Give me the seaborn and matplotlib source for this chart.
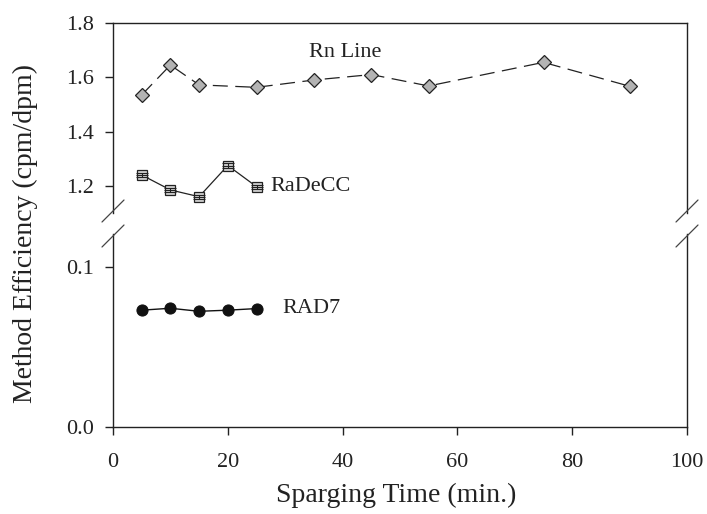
import matplotlib
matplotlib.use("Agg")
import matplotlib.pyplot as plt
import seaborn as sns
import numpy as np

sns.set_theme(style="ticks")
plt.rcParams['font.family'] = ['Liberation Serif', 'DejaVu Serif']

# Data
rn_x = [5, 10, 15, 25, 35, 45, 55, 75, 90]
rn_y = [1.535, 1.645, 1.572, 1.563, 1.590, 1.610, 1.568, 1.655, 1.567]
radecc_x = [5, 10, 15, 20, 25]
radecc_y = [1.240, 1.185, 1.160, 1.275, 1.197]
radecc_err = [0.008, 0.008, 0.008, 0.008, 0.008]
rad7_x = [5, 10, 15, 20, 25]
rad7_y = [0.0730, 0.0742, 0.0723, 0.0730, 0.0740]

top_ticks = [1.2, 1.4, 1.6, 1.8]
bot_ticks = [0.0, 0.1]
x_ticks = [0, 20, 40, 60, 80, 100]

fig = plt.figure(figsize=(7.07, 5.14), dpi=100)
L, R = 113 / 707, 687 / 707
ax_top = fig.add_axes([L, 1 - 213 / 514, R - L, (213 - 23) / 514])
ax_bot = fig.add_axes([L, 1 - 427 / 514, R - L, (427 - 234) / 514])

for ax in (ax_top, ax_bot):
    ax.set_facecolor('white')
    for s in ax.spines.values():
        s.set_color('#222222')
        s.set_linewidth(1.0)
    ax.set_xlim(0, 100)
    ax.tick_params(direction='out', length=6, width=1.0, colors='#222222',
                   labelsize=16, labelcolor='#222222')

# Top panel
ax_top.spines['bottom'].set_visible(False)
ax_top.set_ylim(1.1, 1.8)
ax_top.set_yticks(top_ticks)
ax_top.set_yticklabels([f"{t:.1f}" for t in top_ticks])
ax_top.tick_params(axis='x', bottom=False, labelbottom=False)
ax_top.tick_params(axis='y', pad=8)

sns.lineplot(x=rn_x, y=rn_y, ax=ax_top, color='#222222', linewidth=0.9,
             linestyle=(0, (12, 6)), marker='D', markersize=7.5,
             markerfacecolor='#b3b3b3', markeredgecolor='#222222',
             markeredgewidth=0.9, zorder=3)
sns.lineplot(x=radecc_x, y=radecc_y, ax=ax_top, color='#222222', linewidth=0.9,
             marker='s', markersize=7.5, markerfacecolor='#d0d0d0',
             markeredgecolor='#222222', markeredgewidth=0.9, zorder=3)
ax_top.errorbar(radecc_x, radecc_y, yerr=radecc_err, fmt='none',
                ecolor='#222222', elinewidth=0.8, capsize=4.5, capthick=0.8,
                zorder=4)
ax_top.plot(radecc_x, radecc_y, linestyle='none', marker='_', markersize=9,
            color='#222222', markeredgewidth=0.8, zorder=5)

ax_top.text(40.5, 1.69, "Rn Line", fontsize=16, ha='center', va='center',
            color='#222222')
ax_top.text(27.5, 1.197, "RaDeCC", fontsize=16, ha='left', va='center',
            color='#222222')

# Bottom panel
ax_bot.spines['top'].set_visible(False)
ax_bot.set_ylim(0, 0.1206)
ax_bot.set_yticks(bot_ticks)
ax_bot.set_yticklabels([f"{t:.1f}" for t in bot_ticks])
ax_bot.set_xticks(x_ticks)
ax_bot.set_xticklabels([str(t) for t in x_ticks])
ax_bot.tick_params(axis='x', pad=13)
ax_bot.tick_params(axis='y', pad=8)

sns.lineplot(x=rad7_x, y=rad7_y, ax=ax_bot, color='#111111', linewidth=1.0,
             marker='o', markersize=8, markerfacecolor='#111111',
             markeredgecolor='#111111', zorder=3)
ax_bot.text(29.5, 0.0742, "RAD7", fontsize=16, ha='left', va='center',
            color='#222222')

# Break marks
d = 11 / 707
dh = 11 / 514
for xc in (L, R):
    for yc in (1 - 211 / 514, 1 - 236 / 514):
        fig.add_artist(plt.Line2D([xc - d, xc + d], [yc - dh, yc + dh],
                                  transform=fig.transFigure, color='#444444',
                                  linewidth=0.9))

fig.text(0.036, 0.545, "Method Efficiency (cpm/dpm)", rotation=90,
         fontsize=20, ha='center', va='center', color='#222222')
fig.text((L + R) / 2 - 0.005, 1 - 495 / 514, "Sparging Time (min.)",
         fontsize=20, ha='center', va='center', color='#222222')

fig.savefig("out.png", dpi=100, facecolor='white')
